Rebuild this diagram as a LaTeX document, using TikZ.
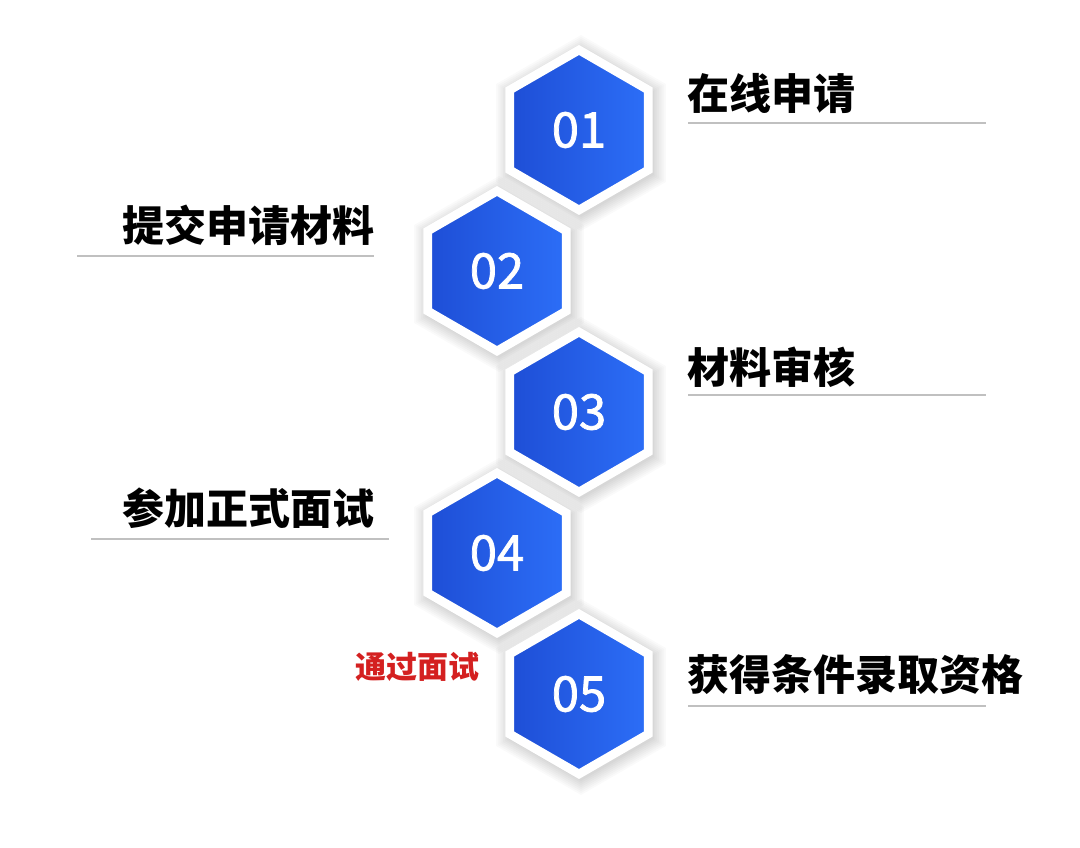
\documentclass[tikz,border=0pt]{standalone}
\usepackage{fontspec}
\usetikzlibrary{shapes.geometric}
\newfontfamily\cjk{Noto Sans CJK SC}
\newfontfamily\cjknum{Noto Sans CJK SC}[UprightFeatures={FakeBold=1.5}]
\definecolor{hexleft}{RGB}{30,78,214}
\definecolor{hexright}{RGB}{44,110,247}
\definecolor{passred}{RGB}{212,32,32}
\definecolor{rulegray}{RGB}{192,192,192}

\begin{document}
\begin{tikzpicture}[x=1pt,y=-1pt,
  hexstep/.style={regular polygon,regular polygon sides=6,shape border rotate=30,
    minimum size=160pt,inner sep=0pt,draw=white,line width=8.7pt,
    left color=hexleft,right color=hexright,text=white,
    font=\cjknum\fontsize{49}{49}\selectfont},
  stepname/.style={inner sep=0pt,font=\cjk\bfseries\fontsize{42}{42}\selectfont},
  steprule/.style={rulegray,line width=2pt}]

  \fill[white] (0,0) rectangle (1080,847);
  \useasboundingbox (0,0) rectangle (1080,847);

  % soft shadows and hexagons
  \foreach \i/\x/\y in {1/579/130,2/497/271,3/579/412,4/497/553,5/579/694} {
    \foreach \r in {84,86,...,98}
      \fill[black,opacity=0.02] (\x+2,\y+3) +(90:\r) -- +(150:\r) -- +(210:\r)
        -- +(270:\r) -- +(330:\r) -- +(30:\r) -- cycle;
    \node[hexstep] (h\i) at (\x,\y) {0\i};
  }

  \node[stepname,anchor=west] (t1) at (687,93) {在线申请};
  \node[stepname,anchor=east] (t2) at (375,225) {提交申请材料};
  \node[stepname,anchor=west] (t3) at (687,367) {材料审核};
  \node[stepname,anchor=east] (t4) at (375,508) {参加正式面试};
  \node[stepname,anchor=west] (t5) at (687,675) {获得条件录取资格};
  \node[inner sep=0pt,anchor=west,text=passred,font=\cjk\bfseries\fontsize{31}{31}\selectfont]
    (pass) at (355,667) {通过面试};

  \draw[steprule] (688,123) -- (986,123);
  \draw[steprule] (77,256) -- (374,256);
  \draw[steprule] (688,395) -- (986,395);
  \draw[steprule] (91,539) -- (389,539);
  \draw[steprule] (688,706) -- (986,706);

\end{tikzpicture}
\end{document}
